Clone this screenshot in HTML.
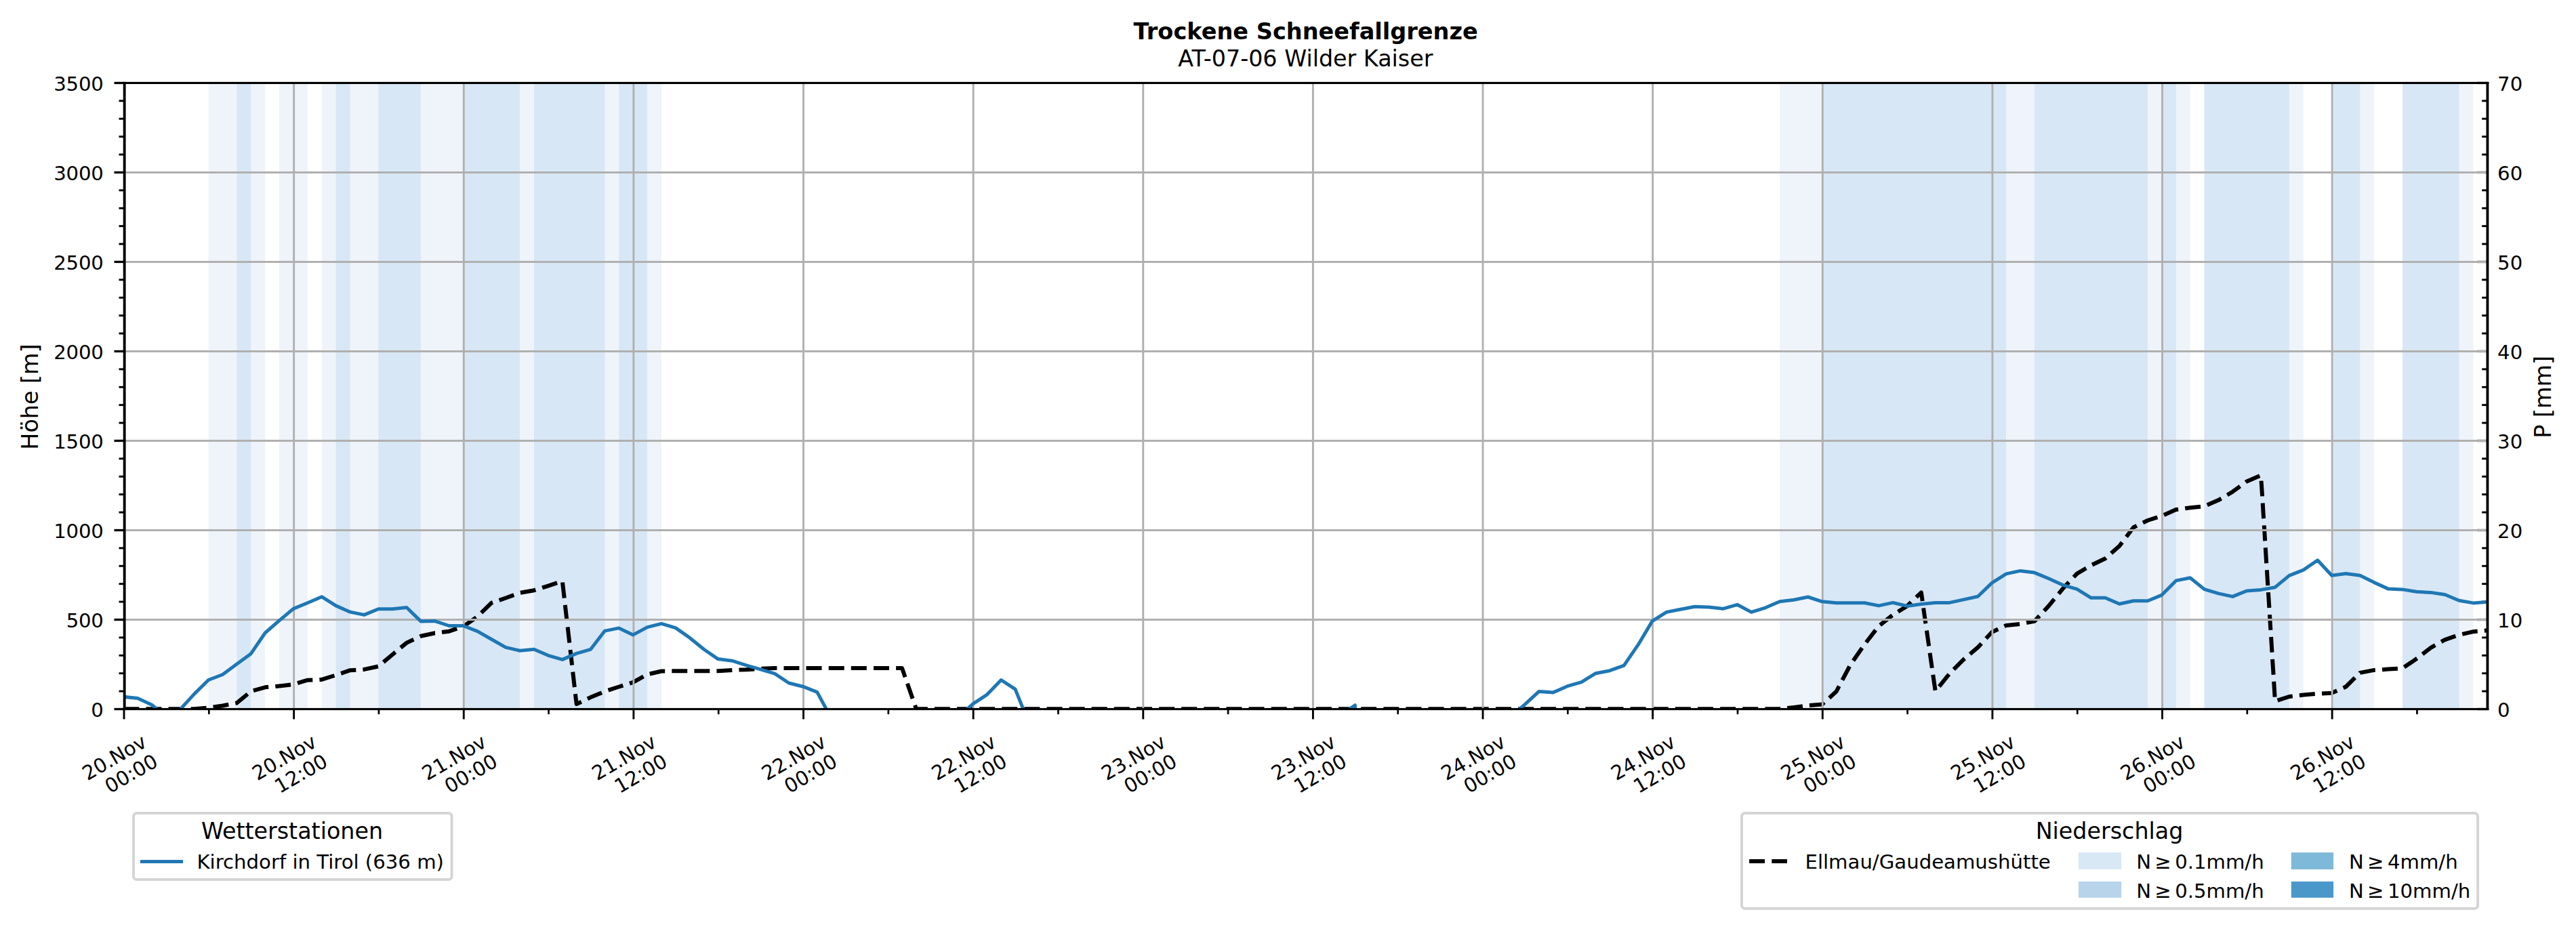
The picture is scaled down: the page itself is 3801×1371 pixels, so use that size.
<!DOCTYPE html>
<html lang="de"><head><meta charset="utf-8"><title>Trockene Schneefallgrenze</title>
<style>html,body{margin:0;padding:0;background:#fff}body{width:3801px;height:1371px;overflow:hidden}svg{display:block}text{font-family:"DejaVu Sans","Liberation Sans",sans-serif;fill:#000}</style></head><body>
<svg width="3801" height="1371" viewBox="0 0 3801 1371">
<rect width="3801" height="1371" fill="#fff"/>
<defs><clipPath id="ax"><rect x="183.66" y="122.45" width="3486.8" height="924.0"/></clipPath></defs>
<g>
<rect x="307.62" y="122.45" width="83.54" height="924.0" fill="#eff4fb"/>
<rect x="412.05" y="122.45" width="41.77" height="924.0" fill="#eff4fb"/>
<rect x="474.71" y="122.45" width="501.27" height="924.0" fill="#eff4fb"/>
<rect x="2625.99" y="122.45" width="605.70" height="924.0" fill="#eff4fb"/>
<rect x="3252.58" y="122.45" width="146.20" height="924.0" fill="#eff4fb"/>
<rect x="3440.55" y="122.45" width="62.66" height="924.0" fill="#eff4fb"/>
<rect x="3544.98" y="122.45" width="104.43" height="924.0" fill="#eff4fb"/>
<rect x="349.39" y="122.45" width="20.89" height="924.0" fill="#d8e7f5"/>
<rect x="495.59" y="122.45" width="20.89" height="924.0" fill="#d8e7f5"/>
<rect x="558.25" y="122.45" width="62.66" height="924.0" fill="#d8e7f5"/>
<rect x="683.57" y="122.45" width="83.54" height="924.0" fill="#d8e7f5"/>
<rect x="788.00" y="122.45" width="104.43" height="924.0" fill="#d8e7f5"/>
<rect x="913.32" y="122.45" width="41.77" height="924.0" fill="#d8e7f5"/>
<rect x="2688.65" y="122.45" width="271.52" height="924.0" fill="#d8e7f5"/>
<rect x="3001.94" y="122.45" width="167.09" height="924.0" fill="#d8e7f5"/>
<rect x="3189.92" y="122.45" width="20.89" height="924.0" fill="#d8e7f5"/>
<rect x="3252.58" y="122.45" width="125.32" height="924.0" fill="#d8e7f5"/>
<rect x="3440.55" y="122.45" width="41.77" height="924.0" fill="#d8e7f5"/>
<rect x="3544.98" y="122.45" width="83.54" height="924.0" fill="#d8e7f5"/>
</g>
<g stroke="#000" fill="none">
<line x1="3655.2" x2="3670.43" y1="1046.50" y2="1046.50" stroke-width="3.3"/>
<line x1="3662.2" x2="3670.43" y1="1020.10" y2="1020.10" stroke-width="2.9"/>
<line x1="3662.2" x2="3670.43" y1="993.70" y2="993.70" stroke-width="2.9"/>
<line x1="3662.2" x2="3670.43" y1="967.30" y2="967.30" stroke-width="2.9"/>
<line x1="3662.2" x2="3670.43" y1="940.89" y2="940.89" stroke-width="2.9"/>
<line x1="3655.2" x2="3670.43" y1="914.49" y2="914.49" stroke-width="3.3"/>
<line x1="3662.2" x2="3670.43" y1="888.09" y2="888.09" stroke-width="2.9"/>
<line x1="3662.2" x2="3670.43" y1="861.69" y2="861.69" stroke-width="2.9"/>
<line x1="3662.2" x2="3670.43" y1="835.29" y2="835.29" stroke-width="2.9"/>
<line x1="3662.2" x2="3670.43" y1="808.89" y2="808.89" stroke-width="2.9"/>
<line x1="3655.2" x2="3670.43" y1="782.49" y2="782.49" stroke-width="3.3"/>
<line x1="3662.2" x2="3670.43" y1="756.08" y2="756.08" stroke-width="2.9"/>
<line x1="3662.2" x2="3670.43" y1="729.68" y2="729.68" stroke-width="2.9"/>
<line x1="3662.2" x2="3670.43" y1="703.28" y2="703.28" stroke-width="2.9"/>
<line x1="3662.2" x2="3670.43" y1="676.88" y2="676.88" stroke-width="2.9"/>
<line x1="3655.2" x2="3670.43" y1="650.48" y2="650.48" stroke-width="3.3"/>
<line x1="3662.2" x2="3670.43" y1="624.08" y2="624.08" stroke-width="2.9"/>
<line x1="3662.2" x2="3670.43" y1="597.68" y2="597.68" stroke-width="2.9"/>
<line x1="3662.2" x2="3670.43" y1="571.27" y2="571.27" stroke-width="2.9"/>
<line x1="3662.2" x2="3670.43" y1="544.87" y2="544.87" stroke-width="2.9"/>
<line x1="3655.2" x2="3670.43" y1="518.47" y2="518.47" stroke-width="3.3"/>
<line x1="3662.2" x2="3670.43" y1="492.07" y2="492.07" stroke-width="2.9"/>
<line x1="3662.2" x2="3670.43" y1="465.67" y2="465.67" stroke-width="2.9"/>
<line x1="3662.2" x2="3670.43" y1="439.27" y2="439.27" stroke-width="2.9"/>
<line x1="3662.2" x2="3670.43" y1="412.87" y2="412.87" stroke-width="2.9"/>
<line x1="3655.2" x2="3670.43" y1="386.46" y2="386.46" stroke-width="3.3"/>
<line x1="3662.2" x2="3670.43" y1="360.06" y2="360.06" stroke-width="2.9"/>
<line x1="3662.2" x2="3670.43" y1="333.66" y2="333.66" stroke-width="2.9"/>
<line x1="3662.2" x2="3670.43" y1="307.26" y2="307.26" stroke-width="2.9"/>
<line x1="3662.2" x2="3670.43" y1="280.86" y2="280.86" stroke-width="2.9"/>
<line x1="3655.2" x2="3670.43" y1="254.46" y2="254.46" stroke-width="3.3"/>
<line x1="3662.2" x2="3670.43" y1="228.06" y2="228.06" stroke-width="2.9"/>
<line x1="3662.2" x2="3670.43" y1="201.65" y2="201.65" stroke-width="2.9"/>
<line x1="3662.2" x2="3670.43" y1="175.25" y2="175.25" stroke-width="2.9"/>
<line x1="3662.2" x2="3670.43" y1="148.85" y2="148.85" stroke-width="2.9"/>
<line x1="3655.2" x2="3670.43" y1="122.45" y2="122.45" stroke-width="3.3"/>
</g>
<path clip-path="url(#ax)" d="M182.3,1046.2 L203.2,1046.2 L205.3,1046.2 M215.4,1046.2 L224.1,1046.2 L238.4,1046.2 M248.5,1046.2 L265.8,1046.2 L271.5,1046.2 M281.6,1046.2 L286.7,1046.2 L304.6,1044.7 M314.6,1043.4 L328.5,1041.5 L337.3,1039.8 M347.3,1037.9 L349.4,1037.5 L365.4,1024.2 M373.9,1019.1 L391.2,1014.3 L396.2,1013.8 M406.3,1013.0 L412.0,1012.4 L429.1,1010.5 M439.0,1008.2 L453.8,1003.7 L461.3,1003.4 M471.4,1003.1 L474.7,1002.9 L493.5,997.0 M503.1,993.8 L516.5,989.2 L525.3,988.7 M535.4,988.0 L537.4,987.9 L557.9,983.5 M565.8,977.1 L579.1,966.0 L583.4,962.4 M591.2,955.9 L600.0,948.6 L610.4,943.7 M619.6,939.4 L620.9,938.8 L641.8,934.3 L642.0,934.3 M652.0,933.0 L662.7,931.7 L674.3,927.7 M683.8,924.4 L702.7,911.2 M710.2,904.4 L725.3,889.7 L727.1,889.1 M736.6,885.8 L746.2,882.5 L758.3,878.1 M767.9,874.8 L788.0,871.2 L790.4,870.4 M800.1,867.4 L808.9,864.6 L822.1,860.1 M830.0,859.5 L832.7,882.6 M833.8,892.8 L836.4,915.4 M837.6,925.4 L840.3,948.7 M841.5,959.0 L844.1,981.6 M845.2,991.6 L847.8,1014.2 M848.9,1024.2 L850.7,1039.1 L857.8,1035.7 M866.9,1031.3 L871.5,1029.1 L888.0,1022.2 M897.5,1018.7 L913.3,1013.5 L919.3,1011.6 M929.0,1008.6 L934.2,1006.9 L949.5,998.4 M958.7,994.5 L976.0,990.5 L981.2,990.5 M991.3,990.3 L996.9,990.3 L1014.2,990.3 M1024.4,990.3 L1038.6,990.3 L1047.3,990.3 M1057.4,990.3 L1059.5,990.3 L1080.3,989.0 M1090.4,988.6 L1101.3,988.2 L1113.3,987.4 M1123.4,986.8 L1143.1,986.0 L1146.4,986.0 M1156.5,986.0 L1164.0,986.0 L1179.4,986.0 M1189.5,986.0 L1205.7,986.0 L1212.5,986.0 M1222.7,986.0 L1226.6,986.0 L1245.7,986.0 M1255.8,986.0 L1268.4,986.0 L1278.8,986.0 M1289.0,986.0 L1289.3,986.0 L1310.2,986.0 L1312.0,986.0 M1322.1,986.0 L1331.0,986.0 L1335.6,999.2 M1338.9,1008.8 L1346.6,1030.9 M1350.0,1040.7 L1351.9,1046.2 L1368.8,1046.2 M1378.9,1046.2 L1393.7,1046.2 L1401.8,1046.2 M1412.0,1046.2 L1414.6,1046.2 L1435.0,1046.2 M1445.1,1046.2 L1456.4,1046.2 L1468.1,1046.2 M1478.2,1046.2 L1498.1,1046.2 L1501.2,1046.2 M1511.4,1046.2 L1519.0,1046.2 L1534.3,1046.2 M1544.5,1046.2 L1560.8,1046.2 L1567.5,1046.2 M1577.6,1046.2 L1581.7,1046.2 L1600.6,1046.2 M1610.7,1046.2 L1623.4,1046.2 L1633.7,1046.2 M1643.8,1046.2 L1644.3,1046.2 L1665.2,1046.2 L1666.8,1046.2 M1677.0,1046.2 L1686.1,1046.2 L1699.9,1046.2 M1710.1,1046.2 L1727.9,1046.2 L1733.1,1046.2 M1743.2,1046.2 L1748.8,1046.2 L1766.2,1046.2 M1776.3,1046.2 L1790.5,1046.2 L1799.3,1046.2 M1809.4,1046.2 L1811.4,1046.2 L1832.3,1046.2 L1832.4,1046.2 M1842.6,1046.2 L1853.2,1046.2 L1865.5,1046.2 M1875.7,1046.2 L1895.0,1046.2 L1898.7,1046.2 M1908.8,1046.2 L1915.9,1046.2 L1931.8,1046.2 M1941.9,1046.2 L1957.6,1046.2 L1964.9,1046.2 M1975.0,1046.2 L1978.5,1046.2 L1998.0,1046.2 M2008.2,1046.2 L2020.3,1046.2 L2031.1,1046.2 M2041.3,1046.2 L2062.1,1046.2 L2064.3,1046.2 M2074.4,1046.2 L2082.9,1046.2 L2097.4,1046.2 M2107.5,1046.2 L2124.7,1046.2 L2130.5,1046.2 M2140.6,1046.2 L2145.6,1046.2 L2163.6,1046.2 M2173.8,1046.2 L2187.4,1046.2 L2196.7,1046.2 M2206.9,1046.2 L2208.3,1046.2 L2229.2,1046.2 L2229.9,1046.2 M2240.0,1046.2 L2250.0,1046.2 L2263.0,1046.2 M2273.1,1046.2 L2291.8,1046.2 L2296.1,1046.2 M2306.2,1046.2 L2312.7,1046.2 L2329.2,1046.2 M2339.4,1046.2 L2354.5,1046.2 L2362.3,1046.2 M2372.5,1046.2 L2375.4,1046.2 L2395.5,1046.2 M2405.6,1046.2 L2417.1,1046.2 L2428.6,1046.2 M2438.7,1046.2 L2458.9,1046.2 L2461.7,1046.2 M2471.8,1046.2 L2479.8,1046.2 L2494.8,1046.2 M2505.0,1046.2 L2521.6,1046.2 L2527.9,1046.2 M2538.1,1046.2 L2542.4,1046.2 L2561.1,1046.2 M2571.2,1046.2 L2584.2,1046.2 L2594.2,1046.2 M2604.3,1046.2 L2605.1,1046.2 L2626.0,1046.2 L2627.2,1046.1 M2637.2,1045.0 L2646.9,1043.9 L2659.9,1042.2 M2669.9,1041.0 L2688.6,1039.4 L2691.7,1036.6 M2699.2,1029.9 L2709.5,1020.6 L2713.7,1012.7 M2718.4,1003.7 L2729.1,983.5 M2734.6,975.0 L2747.6,956.2 M2753.6,948.0 L2767.6,929.9 M2774.2,922.4 L2792.1,908.1 M2800.6,902.7 L2814.0,894.4 L2819.9,888.7 M2827.5,881.4 L2834.9,874.4 L2836.7,887.2 M2838.1,897.4 L2841.4,920.3 M2842.9,930.5 L2846.2,953.5 M2847.6,963.6 L2850.8,985.9 M2852.2,995.7 L2855.6,1018.8 M2861.4,1013.1 L2875.8,995.2 M2882.8,987.9 L2897.5,973.1 L2899.1,971.8 M2906.8,965.2 L2918.4,955.4 L2923.7,949.7 M2930.5,942.2 L2939.3,932.7 L2948.3,928.5 M2957.5,924.2 L2960.2,922.9 L2980.1,920.9 M2990.1,919.1 L3001.9,916.9 L3009.3,908.9 M3016.2,901.5 L3022.8,894.4 L3031.2,884.1 M3037.6,876.3 L3043.7,868.8 L3052.8,859.1 M3059.8,851.8 L3064.6,846.6 L3078.3,838.5 M3087.1,833.5 L3106.4,824.2 L3107.5,823.2 M3115.1,816.5 L3127.3,805.7 L3131.3,800.4 M3137.5,792.3 L3148.1,778.3 L3152.9,775.9 M3162.0,771.4 L3169.0,768.0 L3183.4,763.4 M3193.0,760.0 L3210.8,752.1 L3214.2,751.7 M3224.2,750.3 L3231.7,749.2 L3247.1,747.7 M3256.8,745.3 L3273.5,738.1 L3277.6,735.7 M3286.3,730.5 L3294.3,725.7 L3305.4,717.6 M3313.6,711.6 L3315.2,710.4 L3334.3,702.2 M3336.6,709.6 L3338.1,732.4 M3338.7,742.5 L3340.1,765.3 M3340.8,775.4 L3342.2,798.2 M3342.8,808.3 L3344.2,831.2 M3344.9,841.2 L3346.3,864.1 M3346.9,874.1 L3348.4,897.0 M3349.0,907.1 L3350.4,929.9 M3351.1,940.0 L3352.5,962.8 M3353.1,972.9 L3354.6,995.7 M3355.2,1005.8 L3356.6,1028.6 M3360.6,1033.7 L3377.9,1028.0 L3382.8,1027.5 M3392.9,1026.3 L3398.8,1025.6 L3415.8,1024.1 M3426.0,1023.5 L3440.6,1022.7 L3448.3,1019.3 M3457.6,1015.2 L3461.4,1013.5 L3474.9,1000.2 M3482.2,993.1 L3482.3,992.9 L3503.2,988.9 L3504.8,988.8 M3515.0,988.2 L3524.1,987.6 L3537.9,986.8 M3547.5,984.6 L3565.9,972.0 L3566.5,971.6 M3574.5,965.4 L3586.8,955.9 L3593.3,952.2 M3602.1,947.2 L3607.6,944.1 L3623.4,938.7 M3633.2,935.9 L3649.4,932.2 L3655.7,931.6 M3665.8,930.7 L3670.3,930.3" fill="none" stroke="#000" stroke-width="6.0" stroke-linejoin="round"/>
<g stroke="#b0b0b0" stroke-width="2.9" fill="none">
<line x1="433.63" x2="433.63" y1="122.45" y2="1046.5"/>
<line x1="684.26" x2="684.26" y1="122.45" y2="1046.5"/>
<line x1="934.88" x2="934.88" y1="122.45" y2="1046.5"/>
<line x1="1185.51" x2="1185.51" y1="122.45" y2="1046.5"/>
<line x1="1436.14" x2="1436.14" y1="122.45" y2="1046.5"/>
<line x1="1686.77" x2="1686.77" y1="122.45" y2="1046.5"/>
<line x1="1937.39" x2="1937.39" y1="122.45" y2="1046.5"/>
<line x1="2188.02" x2="2188.02" y1="122.45" y2="1046.5"/>
<line x1="2438.65" x2="2438.65" y1="122.45" y2="1046.5"/>
<line x1="2689.28" x2="2689.28" y1="122.45" y2="1046.5"/>
<line x1="2939.90" x2="2939.90" y1="122.45" y2="1046.5"/>
<line x1="3190.53" x2="3190.53" y1="122.45" y2="1046.5"/>
<line x1="3441.16" x2="3441.16" y1="122.45" y2="1046.5"/>
<line x1="183.66" x2="3670.43" y1="914.49" y2="914.49"/>
<line x1="183.66" x2="3670.43" y1="782.49" y2="782.49"/>
<line x1="183.66" x2="3670.43" y1="650.48" y2="650.48"/>
<line x1="183.66" x2="3670.43" y1="518.47" y2="518.47"/>
<line x1="183.66" x2="3670.43" y1="386.46" y2="386.46"/>
<line x1="183.66" x2="3670.43" y1="254.46" y2="254.46"/>
</g>
<g clip-path="url(#ax)" fill="none" stroke-linejoin="round">
<polyline points="182.3,1028.3 203.2,1030.4 224.1,1040.2 245.0,1058.4 265.8,1047.0 286.7,1024.1 307.6,1003.5 328.5,995.5 349.4,980.0 370.3,964.7 391.2,934.0 412.0,915.8 432.9,898.4 453.8,889.7 474.7,880.7 495.6,893.9 516.5,903.1 537.4,907.4 558.3,898.7 579.1,898.7 600.0,896.5 620.9,916.9 641.8,916.6 662.7,923.5 683.6,923.5 704.5,931.7 725.3,943.5 746.2,955.4 767.1,960.2 788.0,958.3 808.9,967.3 829.8,973.4 850.7,964.4 871.5,958.3 892.4,931.1 913.3,926.9 934.2,936.9 955.1,925.6 976.0,920.3 996.9,926.6 1017.7,941.2 1038.6,958.3 1059.5,972.6 1080.4,975.2 1101.3,981.8 1122.2,987.9 1143.1,994.2 1164.0,1008.0 1184.8,1013.2 1205.7,1021.4 1226.6,1060.0" stroke="#1f77b4" stroke-width="5.0" stroke-linecap="square"/>
<polyline points="1414.6,1057.6 1435.5,1038.8 1456.4,1025.1 1477.2,1003.5 1498.1,1017.2 1519.0,1069.2" stroke="#1f77b4" stroke-width="5.0" stroke-linecap="square"/>
<polyline points="1978.5,1054.9 1999.4,1040.7 2020.3,1838.5" stroke="#1f77b4" stroke-width="5.0" stroke-linecap="square"/>
<polyline points="2229.2,1057.1 2250.0,1039.6 2270.9,1020.4 2291.8,1021.9 2312.7,1012.7 2333.6,1006.6 2354.5,993.7 2375.4,989.7 2396.2,982.1 2417.1,951.7 2438.0,916.6 2458.9,903.4 2479.8,899.2 2500.7,895.2 2521.6,896.0 2542.4,898.4 2563.3,892.3 2584.2,903.4 2605.1,896.8 2626.0,887.8 2646.9,885.2 2667.8,881.0 2688.6,887.8 2709.5,889.7 2730.4,889.7 2751.3,889.7 2772.2,893.9 2793.1,889.4 2814.0,894.4 2834.9,891.5 2855.7,889.4 2876.6,889.4 2897.5,884.9 2918.4,880.2 2939.3,860.1 2960.2,846.9 2981.1,842.4 3001.9,845.1 3022.8,853.8 3043.7,863.3 3064.6,869.3 3085.5,882.3 3106.4,882.3 3127.3,891.3 3148.1,886.8 3169.0,886.8 3189.9,878.1 3210.8,856.9 3231.7,852.7 3252.6,869.6 3273.5,875.9 3294.3,880.4 3315.2,872.0 3336.1,870.4 3357.0,866.7 3377.9,849.3 3398.8,841.1 3419.7,826.8 3440.6,849.3 3461.4,846.4 3482.3,849.3 3503.2,859.6 3524.1,869.1 3545.0,869.9 3565.9,873.3 3586.8,874.4 3607.6,877.5 3628.5,886.2 3649.4,889.9 3670.3,888.4" stroke="#1f77b4" stroke-width="5.0" stroke-linecap="square"/>
</g>
<g stroke="#000" fill="none">
<line x1="168.5" x2="183.66" y1="1046.50" y2="1046.50" stroke-width="3.3"/>
<line x1="175.5" x2="183.66" y1="1020.10" y2="1020.10" stroke-width="2.9"/>
<line x1="175.5" x2="183.66" y1="993.70" y2="993.70" stroke-width="2.9"/>
<line x1="175.5" x2="183.66" y1="967.30" y2="967.30" stroke-width="2.9"/>
<line x1="175.5" x2="183.66" y1="940.89" y2="940.89" stroke-width="2.9"/>
<line x1="168.5" x2="183.66" y1="914.49" y2="914.49" stroke-width="3.3"/>
<line x1="175.5" x2="183.66" y1="888.09" y2="888.09" stroke-width="2.9"/>
<line x1="175.5" x2="183.66" y1="861.69" y2="861.69" stroke-width="2.9"/>
<line x1="175.5" x2="183.66" y1="835.29" y2="835.29" stroke-width="2.9"/>
<line x1="175.5" x2="183.66" y1="808.89" y2="808.89" stroke-width="2.9"/>
<line x1="168.5" x2="183.66" y1="782.49" y2="782.49" stroke-width="3.3"/>
<line x1="175.5" x2="183.66" y1="756.08" y2="756.08" stroke-width="2.9"/>
<line x1="175.5" x2="183.66" y1="729.68" y2="729.68" stroke-width="2.9"/>
<line x1="175.5" x2="183.66" y1="703.28" y2="703.28" stroke-width="2.9"/>
<line x1="175.5" x2="183.66" y1="676.88" y2="676.88" stroke-width="2.9"/>
<line x1="168.5" x2="183.66" y1="650.48" y2="650.48" stroke-width="3.3"/>
<line x1="175.5" x2="183.66" y1="624.08" y2="624.08" stroke-width="2.9"/>
<line x1="175.5" x2="183.66" y1="597.68" y2="597.68" stroke-width="2.9"/>
<line x1="175.5" x2="183.66" y1="571.27" y2="571.27" stroke-width="2.9"/>
<line x1="175.5" x2="183.66" y1="544.87" y2="544.87" stroke-width="2.9"/>
<line x1="168.5" x2="183.66" y1="518.47" y2="518.47" stroke-width="3.3"/>
<line x1="175.5" x2="183.66" y1="492.07" y2="492.07" stroke-width="2.9"/>
<line x1="175.5" x2="183.66" y1="465.67" y2="465.67" stroke-width="2.9"/>
<line x1="175.5" x2="183.66" y1="439.27" y2="439.27" stroke-width="2.9"/>
<line x1="175.5" x2="183.66" y1="412.87" y2="412.87" stroke-width="2.9"/>
<line x1="168.5" x2="183.66" y1="386.46" y2="386.46" stroke-width="3.3"/>
<line x1="175.5" x2="183.66" y1="360.06" y2="360.06" stroke-width="2.9"/>
<line x1="175.5" x2="183.66" y1="333.66" y2="333.66" stroke-width="2.9"/>
<line x1="175.5" x2="183.66" y1="307.26" y2="307.26" stroke-width="2.9"/>
<line x1="175.5" x2="183.66" y1="280.86" y2="280.86" stroke-width="2.9"/>
<line x1="168.5" x2="183.66" y1="254.46" y2="254.46" stroke-width="3.3"/>
<line x1="175.5" x2="183.66" y1="228.06" y2="228.06" stroke-width="2.9"/>
<line x1="175.5" x2="183.66" y1="201.65" y2="201.65" stroke-width="2.9"/>
<line x1="175.5" x2="183.66" y1="175.25" y2="175.25" stroke-width="2.9"/>
<line x1="175.5" x2="183.66" y1="148.85" y2="148.85" stroke-width="2.9"/>
<line x1="168.5" x2="183.66" y1="122.45" y2="122.45" stroke-width="3.3"/>
<line x1="183.00" x2="183.00" y1="1046.5" y2="1061.4" stroke-width="2.9"/>
<line x1="308.31" x2="308.31" y1="1046.5" y2="1054.1" stroke-width="2.7"/>
<line x1="433.63" x2="433.63" y1="1046.5" y2="1061.4" stroke-width="2.9"/>
<line x1="558.94" x2="558.94" y1="1046.5" y2="1054.1" stroke-width="2.7"/>
<line x1="684.26" x2="684.26" y1="1046.5" y2="1061.4" stroke-width="2.9"/>
<line x1="809.57" x2="809.57" y1="1046.5" y2="1054.1" stroke-width="2.7"/>
<line x1="934.88" x2="934.88" y1="1046.5" y2="1061.4" stroke-width="2.9"/>
<line x1="1060.20" x2="1060.20" y1="1046.5" y2="1054.1" stroke-width="2.7"/>
<line x1="1185.51" x2="1185.51" y1="1046.5" y2="1061.4" stroke-width="2.9"/>
<line x1="1310.82" x2="1310.82" y1="1046.5" y2="1054.1" stroke-width="2.7"/>
<line x1="1436.14" x2="1436.14" y1="1046.5" y2="1061.4" stroke-width="2.9"/>
<line x1="1561.45" x2="1561.45" y1="1046.5" y2="1054.1" stroke-width="2.7"/>
<line x1="1686.77" x2="1686.77" y1="1046.5" y2="1061.4" stroke-width="2.9"/>
<line x1="1812.08" x2="1812.08" y1="1046.5" y2="1054.1" stroke-width="2.7"/>
<line x1="1937.39" x2="1937.39" y1="1046.5" y2="1061.4" stroke-width="2.9"/>
<line x1="2062.71" x2="2062.71" y1="1046.5" y2="1054.1" stroke-width="2.7"/>
<line x1="2188.02" x2="2188.02" y1="1046.5" y2="1061.4" stroke-width="2.9"/>
<line x1="2313.33" x2="2313.33" y1="1046.5" y2="1054.1" stroke-width="2.7"/>
<line x1="2438.65" x2="2438.65" y1="1046.5" y2="1061.4" stroke-width="2.9"/>
<line x1="2563.96" x2="2563.96" y1="1046.5" y2="1054.1" stroke-width="2.7"/>
<line x1="2689.28" x2="2689.28" y1="1046.5" y2="1061.4" stroke-width="2.9"/>
<line x1="2814.59" x2="2814.59" y1="1046.5" y2="1054.1" stroke-width="2.7"/>
<line x1="2939.90" x2="2939.90" y1="1046.5" y2="1061.4" stroke-width="2.9"/>
<line x1="3065.22" x2="3065.22" y1="1046.5" y2="1054.1" stroke-width="2.7"/>
<line x1="3190.53" x2="3190.53" y1="1046.5" y2="1061.4" stroke-width="2.9"/>
<line x1="3315.84" x2="3315.84" y1="1046.5" y2="1054.1" stroke-width="2.7"/>
<line x1="3441.16" x2="3441.16" y1="1046.5" y2="1061.4" stroke-width="2.9"/>
<line x1="3566.47" x2="3566.47" y1="1046.5" y2="1054.1" stroke-width="2.7"/>
</g>
<g fill="#000"><rect x="181.72" y="120.88" width="3.87" height="927.20"/><rect x="3668.49" y="120.88" width="3.87" height="927.20"/><rect x="181.72" y="120.88" width="3490.64" height="3.15"/><rect x="181.72" y="1044.92" width="3490.64" height="3.15"/></g>
<g font-size="29.17" text-anchor="end" letter-spacing="-0.26">
<text x="152.5" y="1058.3">0</text>
<text x="152.5" y="926.3">500</text>
<text x="152.5" y="794.3">1000</text>
<text x="152.5" y="662.3">1500</text>
<text x="152.5" y="530.3">2000</text>
<text x="152.5" y="398.3">2500</text>
<text x="152.5" y="266.3">3000</text>
<text x="152.5" y="134.3">3500</text>
</g>
<g font-size="29.17" text-anchor="start">
<text x="3685.1" y="1058.3">0</text>
<text x="3685.1" y="926.3">10</text>
<text x="3685.1" y="794.3">20</text>
<text x="3685.1" y="662.3">30</text>
<text x="3685.1" y="530.3">40</text>
<text x="3685.1" y="398.3">50</text>
<text x="3685.1" y="266.3">60</text>
<text x="3685.1" y="134.2">70</text>
</g>
<g font-size="29.17" text-anchor="end">
<text transform="translate(218.5,1100.8) rotate(-30)"><tspan x="0" y="0">20.Nov</tspan><tspan x="0" y="33.0">00:00</tspan></text>
<text transform="translate(469.1,1100.8) rotate(-30)"><tspan x="0" y="0">20.Nov</tspan><tspan x="0" y="33.0">12:00</tspan></text>
<text transform="translate(719.8,1100.8) rotate(-30)"><tspan x="0" y="0">21.Nov</tspan><tspan x="0" y="33.0">00:00</tspan></text>
<text transform="translate(970.4,1100.8) rotate(-30)"><tspan x="0" y="0">21.Nov</tspan><tspan x="0" y="33.0">12:00</tspan></text>
<text transform="translate(1221.0,1100.8) rotate(-30)"><tspan x="0" y="0">22.Nov</tspan><tspan x="0" y="33.0">00:00</tspan></text>
<text transform="translate(1471.6,1100.8) rotate(-30)"><tspan x="0" y="0">22.Nov</tspan><tspan x="0" y="33.0">12:00</tspan></text>
<text transform="translate(1722.3,1100.8) rotate(-30)"><tspan x="0" y="0">23.Nov</tspan><tspan x="0" y="33.0">00:00</tspan></text>
<text transform="translate(1972.9,1100.8) rotate(-30)"><tspan x="0" y="0">23.Nov</tspan><tspan x="0" y="33.0">12:00</tspan></text>
<text transform="translate(2223.5,1100.8) rotate(-30)"><tspan x="0" y="0">24.Nov</tspan><tspan x="0" y="33.0">00:00</tspan></text>
<text transform="translate(2474.1,1100.8) rotate(-30)"><tspan x="0" y="0">24.Nov</tspan><tspan x="0" y="33.0">12:00</tspan></text>
<text transform="translate(2724.8,1100.8) rotate(-30)"><tspan x="0" y="0">25.Nov</tspan><tspan x="0" y="33.0">00:00</tspan></text>
<text transform="translate(2975.4,1100.8) rotate(-30)"><tspan x="0" y="0">25.Nov</tspan><tspan x="0" y="33.0">12:00</tspan></text>
<text transform="translate(3226.0,1100.8) rotate(-30)"><tspan x="0" y="0">26.Nov</tspan><tspan x="0" y="33.0">00:00</tspan></text>
<text transform="translate(3476.7,1100.8) rotate(-30)"><tspan x="0" y="0">26.Nov</tspan><tspan x="0" y="33.0">12:00</tspan></text>
</g>
<text font-size="33.33" text-anchor="middle" transform="translate(56.3,585.6) rotate(-90)">Höhe [m]</text>
<text font-size="33.33" text-anchor="middle" transform="translate(3763.6,585.9) rotate(-90)">P [mm]</text>
<text font-size="33.55" font-weight="bold" text-anchor="middle" x="1926.7" y="58">Trockene Schneefallgrenze</text>
<text font-size="33.33" text-anchor="middle" x="1926.3" y="97.9">AT-07-06 Wilder Kaiser</text>
<rect x="197.0" y="1199.9" width="469.6" height="98.2" rx="4.9" fill="#fff" stroke="#d5d5d5" stroke-width="4.0"/>
<text font-size="33.33" text-anchor="middle" x="431.0" y="1237.9">Wetterstationen</text>
<line x1="207.0" x2="270.0" y1="1271.4" y2="1271.4" stroke="#1f77b4" stroke-width="5.0"/>
<text font-size="29.17" x="290.5" y="1282.3">Kirchdorf in Tirol (636 m)</text>
<rect x="2570.0" y="1199.9" width="1086.1" height="140.9" rx="4.9" fill="#fff" stroke="#d5d5d5" stroke-width="4.0"/>
<text font-size="33.33" text-anchor="middle" x="3112.5" y="1238.1">Niederschlag</text>
<line x1="2581.1" x2="2637.0" y1="1270.9" y2="1270.9" stroke="#000" stroke-width="6.0" stroke-dasharray="23.0 10.15"/>
<text font-size="29.17" x="2663.5" y="1282.4">Ellmau/Gaudeamushütte</text>
<rect x="3066.9" y="1258.1" width="63.3" height="24.9" fill="#d9e8f5"/>
<rect x="3066.9" y="1300.9" width="63.3" height="23.9" fill="#b7d4ea"/>
<rect x="3380.8" y="1258.1" width="62.3" height="24.9" fill="#7fb9da"/>
<rect x="3380.8" y="1300.9" width="62.3" height="23.9" fill="#4a98c9"/>
<g font-size="29.17">
<text y="1282.3"><tspan x="3152.2">N</tspan><tspan x="3179.2">≥</tspan><tspan x="3209.2">0.1mm/h</tspan></text>
<text y="1325.3"><tspan x="3152.2">N</tspan><tspan x="3179.2">≥</tspan><tspan x="3209.2">0.5mm/h</tspan></text>
<text y="1282.3"><tspan x="3466.0">N</tspan><tspan x="3493.0">≥</tspan><tspan x="3523.0">4mm/h</tspan></text>
<text y="1325.3"><tspan x="3466.0">N</tspan><tspan x="3493.0">≥</tspan><tspan x="3523.0">10mm/h</tspan></text>
</g>
</svg></body></html>
